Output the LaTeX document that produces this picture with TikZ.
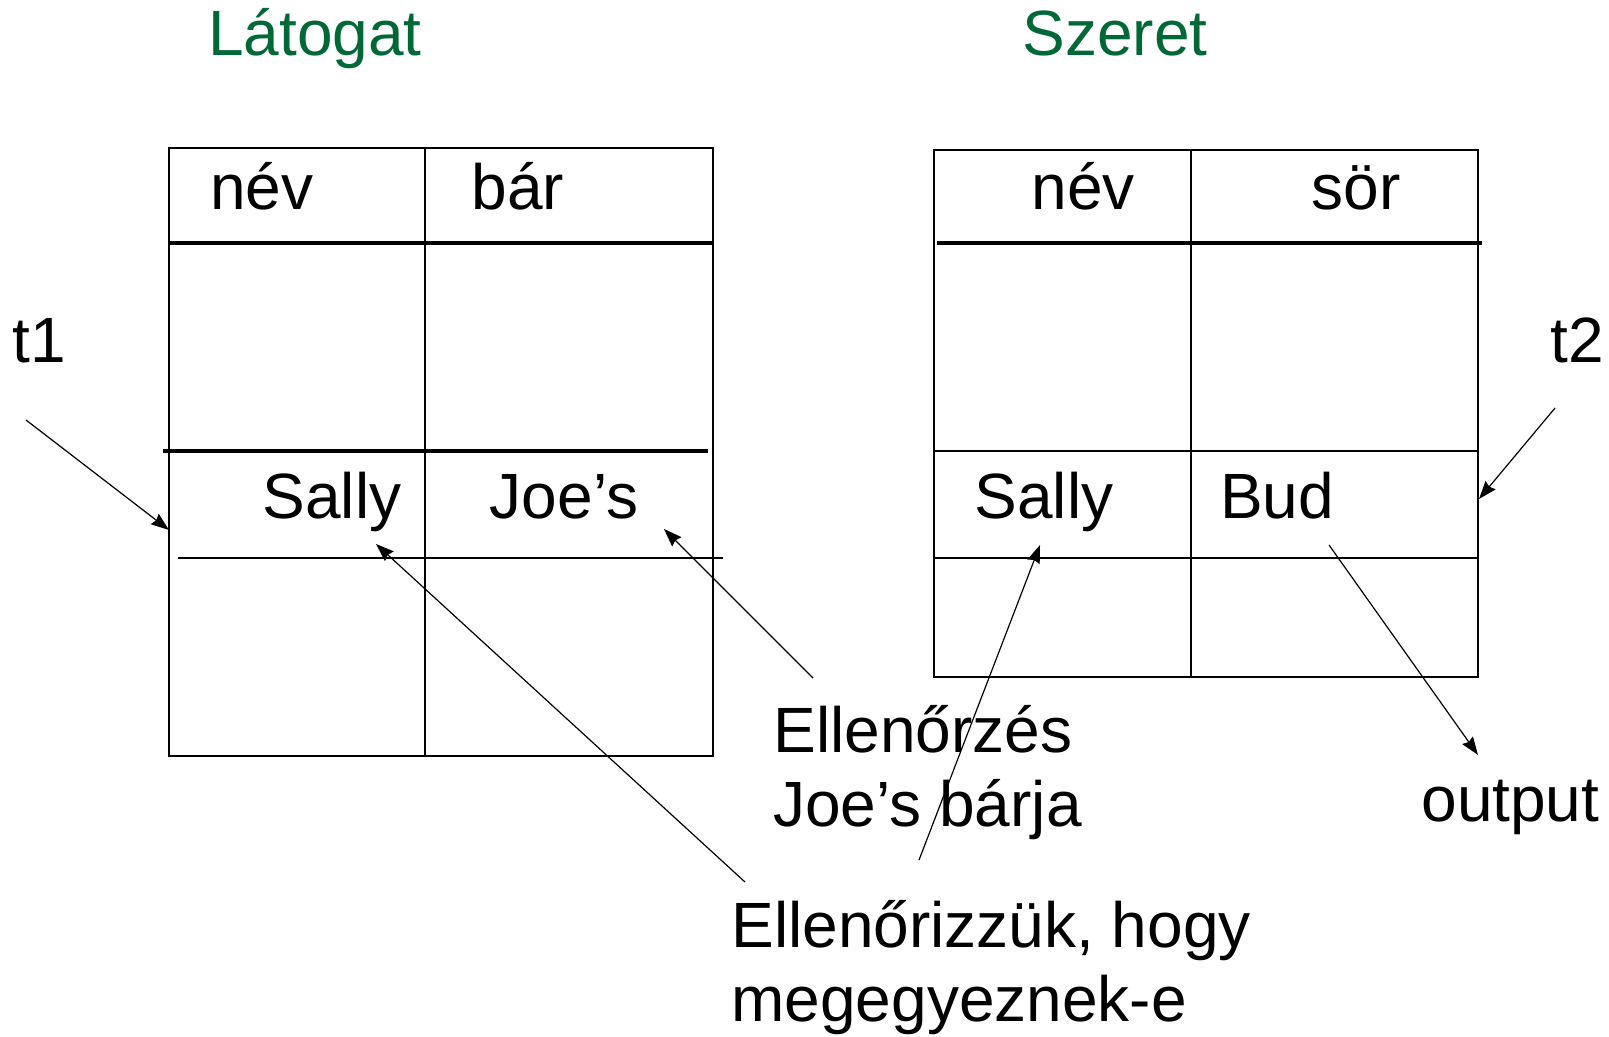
\documentclass[tikz,border=0pt]{standalone}
\usepackage{fontspec}
\setmainfont{Liberation Sans}
\usetikzlibrary{arrows.meta, positioning}
\definecolor{titlegreen}{RGB}{0,104,55}

\begin{document}
\begin{tikzpicture} [x = 0.5pt, y = -0.5pt,
        lbl/.style = {inner sep = 0pt, font = \fontsize{32}{37}\selectfont},
        title/.style = {lbl, text = titlegreen},
        grid/.style = {line width = 1pt},
        head/.style = {line width = 1.6pt},
        ptr/.style = {-{Stealth[length = 9pt, width = 6.5pt, inset = 1pt]}, line width = 0.6pt}]
        \useasboundingbox (0,0) rectangle (1609,1037);

        \node (latogat) [title, anchor = base] at (315,56) {Látogat};
        \node (szeret) [title, anchor = base] at (1115,56) {Szeret};

        % Latogat table
        \draw [grid] (169,148) rectangle (713,756);
        \draw [grid] (425,148) -- (425,756);
        \draw [head] (169,243) -- (713,243);
        \draw [head] (163,451) -- (708,451);
        \draw [grid] (178,558) -- (723,558);

        % Szeret table
        \draw [grid] (934,150) rectangle (1478,677);
        \draw [grid] (1191,150) -- (1191,677);
        \draw [head] (937,243) -- (1482,243);
        \draw [grid] (934,451) -- (1478,451);
        \draw [grid] (934,558) -- (1478,558);

        \node (nev1) [lbl, anchor = base] at (262,210) {név};
        \node (bar) [lbl, anchor = base] at (518,210) {bár};
        \node (nev2) [lbl, anchor = base] at (1083,210) {név};
        \node (sor) [lbl, anchor = base] at (1356,210) {sör};

        \node (sally1) [lbl, anchor = base] at (332,518) {Sally};
        \node (joes) [lbl, anchor = base] at (564,518) {Joe’s};
        \node (sally2) [lbl, anchor = base] at (1044,518) {Sally};
        \node (bud) [lbl, anchor = base] at (1277,518) {Bud};

        \node (t1) [lbl, anchor = base] at (39,362) {t1};
        \node (t2) [lbl, anchor = base] at (1577,362) {t2};

        \node (check) [lbl, align = left, anchor = base west] at (773,826) {Ellenőrzés\\Joe’s bárja};
        \node (compare) [lbl, align = left, anchor = base west] at (731,1021) {Ellenőrizzük, hogy\\megegyeznek-e};
        \node (output) [lbl, anchor = base west] at (1421,821) {output};

        \coordinate (t1tail) at (26,420);
        \coordinate (t1tip) at (169,530);
        \coordinate (t2tail) at (1555,408);
        \coordinate (t2tip) at (1479,499);
        \coordinate (checktail) at (813,678);
        \coordinate (joestip) at (664,529);
        \coordinate (cmptailA) at (745,882);
        \coordinate (sallytipA) at (376,544);
        \coordinate (cmptailB) at (919,860);
        \coordinate (sallytipB) at (1040,545);
        \coordinate (budtail) at (1329,545);
        \coordinate (outtip) at (1478,755);

        \path [ptr] (t1tail) edge (t1tip);
        \path [ptr] (t2tail) edge (t2tip);
        \path [ptr] (checktail) edge (joestip);
        \path [ptr] (cmptailA) edge (sallytipA);
        \path [ptr] (cmptailB) edge (sallytipB);
        \path [ptr] (budtail) edge (outtip);
    \end{tikzpicture}
\end{document}
